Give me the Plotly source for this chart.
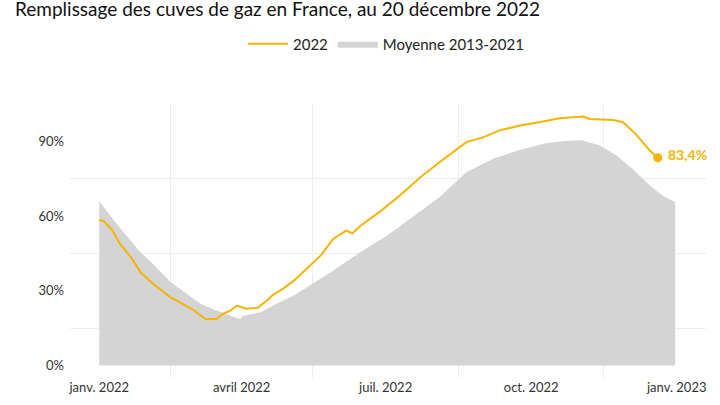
import plotly.graph_objects as go

# Moyenne 2013-2021 (taux de remplissage, %)
avg_dates = ["2022-01-01", "2022-01-13", "2022-01-27", "2022-02-04", "2022-02-15",
             "2022-02-25", "2022-03-06", "2022-03-16", "2022-03-27", "2022-03-31",
             "2022-04-02", "2022-04-13", "2022-04-23", "2022-05-04", "2022-05-14",
             "2022-05-29", "2022-06-15", "2022-07-02", "2022-07-18", "2022-08-04",
             "2022-08-21", "2022-09-07", "2022-09-24", "2022-10-11", "2022-10-23",
             "2022-11-02", "2022-11-13", "2022-11-24", "2022-12-04", "2022-12-15",
             "2022-12-23", "2022-12-31"]
avg_values = [66, 56, 45.5, 40.8, 33.5,
              28.8, 24.8, 22.1, 19.7, 18.7,
              20, 21.4, 24.8, 28.1, 32.1,
              38.2, 45.5, 52.2, 59.6, 67.6,
              77.6, 83, 86.6, 89.3, 90.1,
              90.4, 88.4, 84.3, 79, 72.3,
              68.3, 65.6]

# 2022
y22_dates = ["2022-01-01", "2022-01-04", "2022-01-09", "2022-01-14", "2022-01-21",
             "2022-01-27", "2022-02-04", "2022-02-08", "2022-02-15", "2022-02-21",
             "2022-03-02", "2022-03-09", "2022-03-16", "2022-03-20", "2022-03-25",
             "2022-03-29", "2022-04-04", "2022-04-11", "2022-04-17", "2022-04-21",
             "2022-04-27", "2022-05-04", "2022-05-12", "2022-05-21", "2022-05-29",
             "2022-06-06", "2022-06-10", "2022-06-15", "2022-06-27", "2022-07-10",
             "2022-07-23", "2022-08-04", "2022-08-21", "2022-09-01", "2022-09-11",
             "2022-09-24", "2022-10-06", "2022-10-19", "2022-11-03", "2022-11-07",
             "2022-11-22", "2022-11-28", "2022-12-06", "2022-12-15", "2022-12-20"]
y22_values = [58.5, 57.9, 54.5, 48.9, 43.5,
              37.5, 32.8, 30.8, 27.4, 25.4,
              22.1, 18.7, 18.7, 20.7, 22.1,
              24.1, 22.8, 23.1, 26.1, 28.5,
              30.8, 34.1, 38.8, 44.2, 50.9,
              54.2, 53.1, 56, 61.6, 68.3,
              75.6, 81.6, 89.7, 91.7, 94.4,
              96.4, 97.7, 99.3, 100, 99,
              98.6, 97.7, 93, 86.3, 83.4]

# ticks
x_tickvals = ["2022-01-01", "2022-04-01", "2022-07-01", "2022-10-01", "2023-01-01"]
x_ticktext = ["janv. 2022", "avril 2022", "juil. 2022", "oct. 2022", "janv. 2023"]
x_gridvals = ["2022-02-15", "2022-05-16", "2022-08-16", "2022-11-16"]
y_tickvals = [0, 30, 60, 90]
y_gridvals = [15, 45, 75, 105]

YELLOW = "#f5b400"
GREY = "#d4d4d4"
FONT = "Lato"

fig = go.Figure()

fig.add_trace(go.Scatter(x=avg_dates, y=avg_values, name="Moyenne 2013-2021",
                         mode="lines", fill="tozeroy", fillcolor=GREY,
                         line=dict(width=0, color=GREY), legendrank=2))
fig.add_trace(go.Scatter(x=y22_dates, y=y22_values, name="2022", mode="lines",
                         line=dict(width=2, color=YELLOW), legendrank=1))
# point final
fig.add_trace(go.Scatter(x=y22_dates[-1:], y=y22_values[-1:], mode="markers",
                         marker=dict(size=9, color=YELLOW), showlegend=False))

last_label = f"{y22_values[-1]:.1f}".replace(".", ",") + "%"
fig.add_annotation(x=y22_dates[-1], y=y22_values[-1], text="<b>" + last_label + "</b>",
                   showarrow=False, xanchor="left", yanchor="middle", xshift=8, yshift=3,
                   font=dict(family=FONT, size=14, color=YELLOW))

fig.update_layout(
    width=720, height=405,
    margin=dict(l=70, r=14, t=104, b=27),
    paper_bgcolor="white", plot_bgcolor="white",
    font=dict(family=FONT, size=13, color="#333333"),
    title=dict(text="Remplissage des cuves de gaz en France, au 20 décembre 2022",
               x=15 / 720, xanchor="left", xref="container", y=1 - 9 / 405,
               yanchor="middle", yref="container",
               font=dict(family=FONT, size=19, color="#111111")),
    legend=dict(orientation="h", x=243 / 720, xanchor="left", xref="container",
                y=1 - 44 / 405, yref="container", yanchor="middle",
                itemwidth=40,
                font=dict(family=FONT, size=15, color="#222222")),
    hovermode=False,
)

fig.update_xaxes(range=["2021-12-13 12:00", "2023-01-19 12:00"], type="date",
                 tickmode="array", tickvals=x_tickvals, ticktext=x_ticktext,
                 showgrid=False, zeroline=False, showline=False, ticks="",
                 automargin=False,
                 minor=dict(tickmode="array", tickvals=x_gridvals, showgrid=True,
                            gridcolor="#eeeeee", gridwidth=1))
fig.update_yaxes(range=[-5, 105], tickmode="array", tickvals=y_tickvals,
                 ticktext=[f"{v}%" for v in y_tickvals],
                 showgrid=False, zeroline=False, showline=False, ticks="",
                 ticklabelstandoff=5, automargin=False,
                 minor=dict(tickmode="array", tickvals=y_gridvals, showgrid=True,
                            gridcolor="#eeeeee", gridwidth=1))

# the page body has a default 8px margin: drop it so the figure fills the window
fig.write_html("out.html", config={"displayModeBar": False},
               post_script="document.body.style.margin = '0';")
